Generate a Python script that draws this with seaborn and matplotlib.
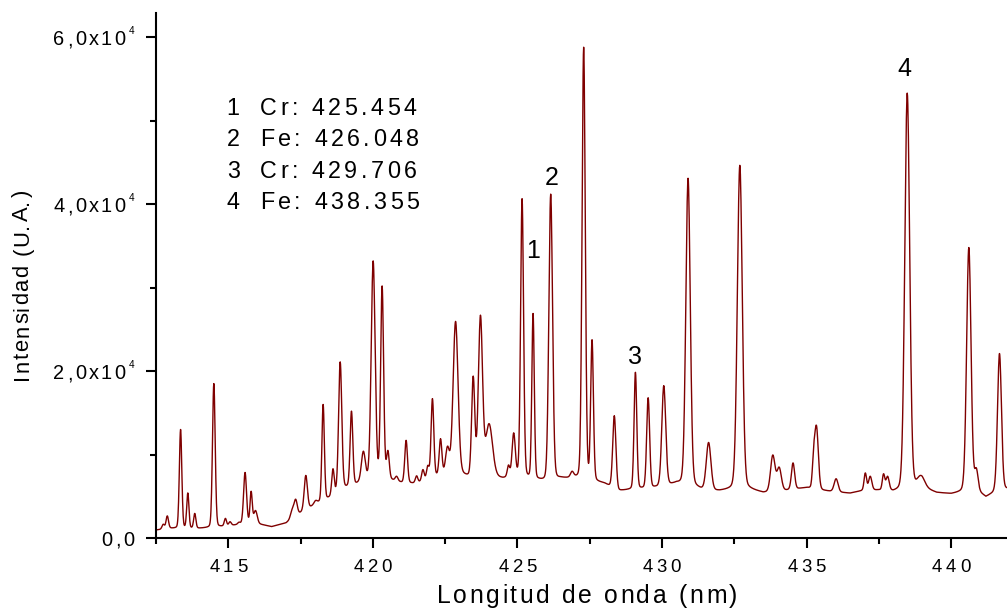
import numpy as np
import pandas as pd
import matplotlib
matplotlib.use("Agg")
import matplotlib.pyplot as plt
from matplotlib.font_manager import FontProperties
import seaborn as sns

# Continuum level under the emission lines (nm, counts)
continuum_nm = [412.5, 413.0, 413.5, 414.0, 414.5, 415.0, 415.5, 416.0, 416.5, 417.0,
                417.5, 418.0, 418.5, 419.0, 419.5, 420.0, 420.5, 421.0, 421.5, 422.0,
                422.5, 423.0, 423.5, 424.0, 424.5, 425.0, 425.5, 426.0, 426.5, 427.0,
                427.5, 428.0, 428.5, 429.0, 429.5, 430.0, 430.5, 431.0, 431.5, 432.0,
                432.5, 433.0, 433.5, 434.0, 434.5, 435.0, 435.5, 436.0, 436.5, 437.0,
                437.5, 438.0, 438.5, 439.0, 439.5, 440.0, 440.5, 441.0, 441.2, 441.5,
                442.0]
continuum_counts = [950, 1150, 1150, 1150, 1250, 1450, 1650, 1700, 1350, 1800,
                    3000, 4000, 4800, 5900, 6500, 7000, 7000, 6600, 6500, 7200,
                    7600, 7600, 7000, 7300, 7100, 7300, 7000, 6700, 7100, 7100,
                    6800, 6500, 5600, 5800, 5900, 6100, 6500, 6200, 5600, 5600,
                    5800, 5800, 5400, 5500, 5800, 6000, 5700, 5500, 5350, 5700,
                    5700, 5500, 5700, 6000, 5400, 5250, 5500, 5300, 4850, 5400,
                    5900]

# Emission lines: centre (nm), apex intensity (counts), full width at half maximum (nm)
line_center = [412.75, 412.89, 413.35, 413.60, 413.84, 414.50, 414.90, 415.06, 415.37,
               415.58, 415.79, 415.94, 417.21, 417.33, 417.68, 418.02, 418.28, 418.62,
               418.87, 419.26, 419.67, 420.01, 420.32, 420.52, 420.82, 421.15, 421.51,
               421.73, 421.90, 422.06, 422.34, 422.58, 422.86, 423.47, 423.72, 424.02,
               424.69, 424.87, 425.16, 425.54, 426.15, 426.89, 427.29, 427.58, 428.35,
               429.08, 429.52, 430.06, 430.90, 431.61, 432.69, 433.83, 434.05, 434.53,
               435.24, 435.34, 436.02, 437.03, 437.20, 437.66, 437.80, 438.48, 438.95,
               440.61, 440.87, 441.67]
line_apex = [1650, 2650, 13000, 5400, 2950, 18500, 2350, 1950, 1900,
             7850, 5600, 3300, 3500, 4650, 7500, 4500, 16000, 8300,
             21100, 15200, 10400, 33200, 30200, 10500, 7400, 11700, 7450,
             8200, 8700, 16700, 11900, 11000, 25950, 19400, 26700, 13700,
             8750, 12600, 40650, 26900, 41200, 8000, 58800, 23750, 14650,
             19850, 16800, 18250, 43100, 11450, 44650, 9950, 8500, 9000,
             10900, 13500, 7100, 7800, 7400, 7700, 7400, 53300, 7500,
             34800, 8400, 22100]
line_fwhm = [0.10, 0.10, 0.10, 0.09, 0.09, 0.11, 0.09, 0.10, 0.10,
             0.12, 0.09, 0.14, 0.14, 0.13, 0.13, 0.13, 0.10, 0.10,
             0.13, 0.11, 0.16, 0.16, 0.12, 0.11, 0.11, 0.11, 0.10,
             0.10, 0.10, 0.11, 0.11, 0.15, 0.20, 0.13, 0.17, 0.28,
             0.10, 0.13, 0.12, 0.10, 0.15, 0.13, 0.13, 0.11, 0.13,
             0.11, 0.12, 0.16, 0.18, 0.19, 0.20, 0.18, 0.18, 0.13,
             0.10, 0.15, 0.16, 0.10, 0.13, 0.10, 0.13, 0.20, 0.30,
             0.18, 0.14, 0.16]

# Identified lines
id_numbers = ["1", "2", "3", "4"]
id_labels = ["Cr: 425.454", "Fe: 426.048", "Cr: 429.706", "Fe: 438.355"]
id_mark_nm = [425.55, 426.17, 429.05, 438.39]
id_mark_y = [33500, 42300, 20900, 55300]

y_ticks = [0, 20000, 40000, 60000]
y_tick_mantissa = ["0,0", "2,0x10", "4,0x10", "6,0x10"]
y_tick_exponent = ["", "4", "4", "4"]
x_ticks = [415, 420, 425, 430, 435, 440]
x_minor = [412.5, 417.5, 422.5, 427.5, 432.5, 437.5]

W, H = 1007, 609
FONT = "Liberation Sans"


def profile(x, c, w, eta=0.12):
    d = 4.0 * (x - c) ** 2 / w ** 2
    return eta / (1.0 + d) + (1.0 - eta) * np.exp(-np.log(2.0) * d)


wl = np.arange(412.4, 442.1, 0.01)
centers = np.array(line_center)
widths = np.array(line_fwhm)
apex = np.array(line_apex, dtype=float)
base_at_c = np.interp(centers, continuum_nm, continuum_counts)

# amplitudes such that every line reaches its apex value above the continuum
P = np.array([[profile(ci, cj, wj) for cj, wj in zip(centers, widths)] for ci in centers])
amp = apex - base_at_c
for _ in range(80):
    overlap = P @ amp - np.diag(P) * amp
    amp = np.clip(apex - base_at_c - overlap, 0, None)

counts = np.interp(wl, continuum_nm, continuum_counts)
for c, w, a in zip(centers, widths, amp):
    counts = counts + a * profile(wl, c, w)

df = pd.DataFrame({"wavelength": wl, "intensity": counts})

sns.set_theme(style="ticks")
plt.rcParams["font.family"] = [FONT, "DejaVu Sans"]

fig = plt.figure(figsize=(W / 100, H / 100), dpi=100)
ax = fig.add_axes([156 / W, (H - 538) / H, 1 - 156 / W, (538 - 13) / H])

sns.lineplot(data=df, x="wavelength", y="intensity", ax=ax, color="#7f0000",
             linewidth=1.0, estimator=None, sort=False)

ax.set_xticks(x_ticks)
ax.set_xticks(x_minor, minor=True)
ax.set_yticks(y_ticks)
ax.set_yticks([10000, 30000, 50000], minor=True)
ax.set_xlim(412.5, 441.93)
ax.set_ylim(0, 62900)
ax.set_xticklabels([])
ax.set_yticklabels([])
ax.set_xlabel("")
ax.set_ylabel("")

for side in ("top", "right"):
    ax.spines[side].set_visible(False)
for side in ("left", "bottom"):
    ax.spines[side].set_linewidth(1.5)
    ax.spines[side].set_color("black")
ax.tick_params(axis="both", which="major", length=7.5, width=1.5, color="black")
ax.tick_params(axis="both", which="minor", length=4, width=1.5, color="black")

renderer = fig.canvas.get_renderer()


def ink_width(text, fp):
    if not text.strip():
        return 0.0
    return renderer.get_text_width_height_descent(text, fp, ismath=False)[0]


def char_offsets(s, fp, track):
    offs = []
    for i, ch in enumerate(s):
        offs.append(ink_width(s[:i + 1], fp) - ink_width(ch, fp) + track * i)
    total = ink_width(s, fp) + track * (len(s) - 1)
    return offs, total


def spaced_text(s, x, y, size, track, ha="left"):
    """Horizontal text with extra letter spacing; x, y in pixels from top-left, y = baseline."""
    fp = FontProperties(family=FONT, size=size)
    offs, total = char_offsets(s, fp, track)
    x0 = x - {"left": 0.0, "center": total / 2, "right": total}[ha]
    for ch, o in zip(s, offs):
        if ch != " ":
            fig.text((x0 + o) / W, 1 - y / H, ch, fontproperties=fp,
                     ha="left", va="baseline", color="black")
    return x0, total


def spaced_text_vertical(s, x_base, y_mid, size, track):
    """Text reading bottom-to-top, centred on y_mid, baseline at x_base (pixels)."""
    fp = FontProperties(family=FONT, size=size)
    offs, total = char_offsets(s, fp, track)
    y0 = y_mid + total / 2
    for ch, o in zip(s, offs):
        if ch != " ":
            fig.text(x_base / W, 1 - (y0 - o) / H, ch, fontproperties=fp,
                     rotation=90, rotation_mode="anchor",
                     ha="left", va="baseline", color="black")


def to_px(x, y):
    px, py = ax.transData.transform((x, y))
    return px, H - py


# y tick labels: mantissa with a small raised exponent, right aligned
for val, mant, expo in zip(y_ticks, y_tick_mantissa, y_tick_exponent):
    _, ty = to_px(413.0, val)
    right = 134.0
    fp_sup = FontProperties(family=FONT, size=7.2)
    sup_w = ink_width(expo, fp_sup)
    gap = 3.0 if expo else 0.0
    spaced_text(mant, right - sup_w - gap, ty + 8.0, 14.4, 2.4, ha="right")
    if expo:
        fig.text((right - sup_w) / W, 1 - (ty - 3.0) / H, expo, fontproperties=fp_sup,
                 ha="left", va="baseline", color="black")

# x tick labels
for val in x_ticks:
    tx, _ = to_px(val, 0)
    spaced_text(str(val), tx, 571.7, 13.4, 3.6, ha="center")

# axis titles
spaced_text("Longitud de onda (nm)", 436.7, 602.7, 17.8, 2.6, ha="left")
spaced_text_vertical("Intensidad (U.A.)", 28.3, 285.0, 15.8, 1.6)

# numbers above the identified lines
for num, xv, yv in zip(id_numbers, id_mark_nm, id_mark_y):
    px, py = to_px(xv, yv)
    spaced_text(num, px, py, 18.0, 0.0, ha="center")

# key of identified lines
for i, (num, lab) in enumerate(zip(id_numbers, id_labels)):
    yb = 115.0 + 31.4 * i
    spaced_text(num, 226.7, yb, 16.8, 0.0)
    spaced_text(lab, 260.0, yb, 16.8, 3.5)

fig.savefig("out.png", dpi=100)
